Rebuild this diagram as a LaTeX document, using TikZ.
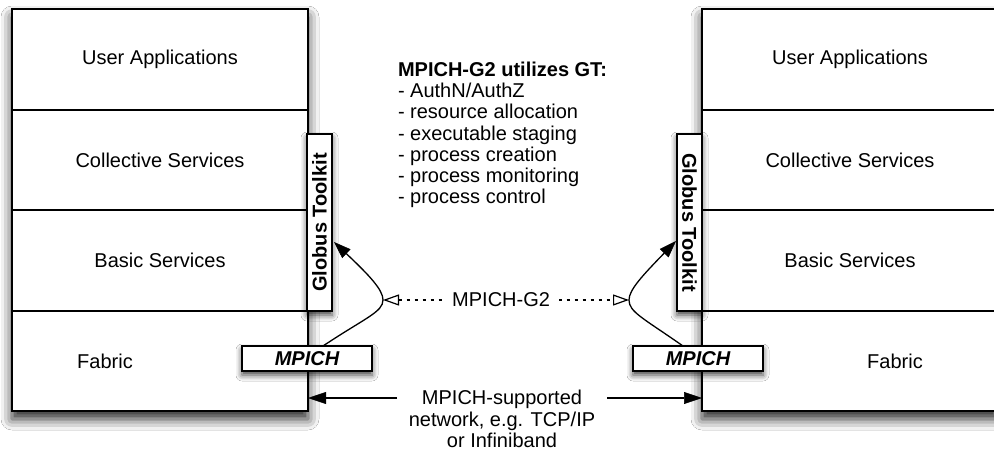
\documentclass[tikz,border=0pt]{standalone}
\usepackage{fontspec}
\setmainfont{Liberation Sans}
\usetikzlibrary{arrows.meta,calc,shadows.blur}
\begin{document}
\begin{tikzpicture}[x=1pt,y=-1pt,
  every node/.style={font=\fontsize{20}{21.2}\selectfont, inner sep=0pt, outer sep=0pt},
  row/.style={draw, line width=1.6pt, minimum width=296pt, minimum height=100.5pt},
  frame/.style={fill=white, blur shadow={shadow xshift=0pt, shadow yshift=-8pt, shadow blur radius=11pt, shadow opacity=85}},
  tag/.style={draw, line width=1.6pt, fill=white, minimum height=25pt,
    blur shadow={shadow xshift=0pt, shadow yshift=-4pt, shadow blur radius=6pt, shadow opacity=75}},
  conn/.style={black, line width=1.3pt, -{Triangle[length=17pt,width=12pt,fill=black,line width=0.5pt]}},
  netarrow/.style={black, line width=1.3pt, -{Triangle[length=18pt,width=12pt,fill=black,line width=0.5pt]}},
  dotline/.style={black, line width=1.1pt, dash pattern=on 3pt off 5pt,
    {Triangle[open,length=16pt,width=11pt,line width=1.2pt]}-{Triangle[open,length=16pt,width=11pt,line width=1.2pt]}}
]
\clip (0,0) rectangle (994,453);
\fill[white] (0,0) rectangle (994,453);

% left stack
\path[frame] (12,9) rectangle (308,411);
\node[row] (lua) at (160,59.5) {User Applications};
\node[row] (lcs) at (160,160) {Collective Services};
\node[row] (lbs) at (160,260.5) {Basic Services};
\node[row] (lfa) at (160,361) {};
\node (lfat) at (105,361) {Fabric};

% right stack
\path[frame] (702,9) rectangle (998,411);
\node[row] (rua) at (850,59.5) {User Applications};
\node[row] (rcs) at (850,160) {Collective Services};
\node[row] (rbs) at (850,260.5) {Basic Services};
\node[row] (rfa) at (850,361) {};
\node (rfat) at (895,361) {Fabric};

% Globus Toolkit tags
\node[tag, rotate=90, minimum width=177pt, font=\fontsize{20}{21}\selectfont\bfseries] (lgt) at (319.5,222.5) {Globus Toolkit};
\node[tag, rotate=-90, minimum width=177pt, font=\fontsize{20}{21}\selectfont\bfseries] (rgt) at (689.5,222.5) {Globus Toolkit};

% MPICH tags
\node[tag, minimum width=130pt, font=\fontsize{20}{21}\selectfont\bfseries\itshape] (lmp) at (307,358.5) {MPICH};
\node[tag, minimum width=130pt, font=\fontsize{20}{21}\selectfont\bfseries\itshape] (rmp) at (698,358.5) {MPICH};

% curved arrows
\coordinate (lapex) at (383,300);
\coordinate (rapex) at (629,300);
\coordinate (ltip) at (334,242);
\coordinate (rtip) at (676,241);
\draw[conn] ($(lmp.north)+(16,0)$) .. controls (365,318) and (383,312) .. (lapex)
  .. controls (383,290) and (370,276) .. (ltip);
\draw[conn] ($(rmp.north)+(-15,0)$) .. controls (643,318) and (629,312) .. (rapex)
  .. controls (629,290) and (642,276) .. (rtip);

% MPICH-G2 dotted connector
\draw[dotline] (lapex) -- node[pos=0.48, fill=white, inner xsep=9pt, inner ysep=2pt] (g2) {MPICH-G2} (rapex);

% title list
\node[anchor=north west, align=left] (gtlist) at (398,62) {\textbf{MPICH-G2 utilizes GT:}\\- AuthN/AuthZ\\- resource allocation\\- executable staging\\- process creation\\- process monitoring\\- process control};

% network
\node[align=center] (net) at (502,419) {MPICH-supported\\network, e.g. TCP/IP\\or Infiniband};
\coordinate (nl) at (397,398);
\coordinate (nr) at (607,398);
\draw[netarrow] (nl) -- (lfa.east |- nl);
\draw[netarrow] (nr) -- (rfa.west |- nr);
\end{tikzpicture}
\end{document}
